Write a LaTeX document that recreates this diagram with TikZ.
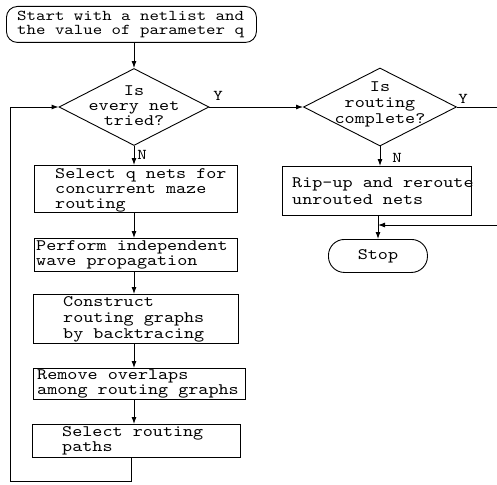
\documentclass[tikz,border=0pt]{standalone}
\usepackage{fontspec}
\usetikzlibrary{shapes.geometric,arrows.meta,calc}
\newfontfamily\tw{lmmono10-regular}[Extension=.otf, FakeStretch=1.2]
\begin{document}
\begin{tikzpicture}[x=1pt,y=-1pt,
  box/.style={draw, line width=0.9pt, anchor=north west, inner sep=0pt},
  txt/.style={font={\tw\fontsize{16}{15}\selectfont}, align=left, inner sep=0pt, anchor=west},
  ctxt/.style={font={\tw\fontsize{16}{15}\selectfont}, align=center, inner sep=0pt},
  lbl/.style={font={\tw\fontsize{15}{15}\selectfont}, inner sep=0pt},
  dia/.style={draw, diamond, line width=0.9pt, inner sep=0pt},
  arr/.style={-{Latex[length=7pt,width=5pt]}, line width=0.9pt},
  ln/.style={line width=0.9pt}]
\useasboundingbox (0,0) rectangle (497,484);

% left column
\node[box, rounded corners=11pt, minimum width=250pt, minimum height=36pt] (start) at (6,6) {};
\node[txt, font={\tw\fontsize{15}{14}\selectfont}] (starttxt) at ([xshift=11pt]start.west) {Start with a netlist and\\the value of parameter q};

\node[dia, minimum width=150pt, minimum height=77pt] (d1) at (134,107) {};
\node[ctxt] (d1t) at (134,106) {Is\\every net\\tried?};

\node[box, minimum width=203pt, minimum height=47pt] (b1) at (34,165) {};
\node[txt] (b1t) at ([xshift=21pt,yshift=-1pt]b1.west) {Select q nets for\\concurrent maze\\routing};

\node[box, minimum width=203pt, minimum height=33pt] (b2) at (34,238) {};
\node[txt] (b2t) at ([xshift=2pt]b2.west) {Perform independent\\wave propagation};

\node[box, minimum width=205pt, minimum height=49pt] (b3) at (33,294) {};
\node[txt, font={\tw\fontsize{16}{16}\selectfont}] (b3t) at ([xshift=30pt]b3.west) {Construct\\routing graphs\\by backtracing};

\node[box, minimum width=212pt, minimum height=31pt] (b4) at (33,368) {};
\node[txt] (b4t) at ([xshift=4pt]b4.west) {Remove overlaps\\among routing graphs};

\node[box, minimum width=208pt, minimum height=33pt] (b5) at (32,424) {};
\node[txt] (b5t) at ([xshift=30pt]b5.west) {Select routing\\paths};

% right column
\node[dia, minimum width=153pt, minimum height=78pt] (d2) at (380,107) {};
\node[ctxt, font={\tw\fontsize{16}{16}\selectfont}] (d2t) at (380,104) {Is\\routing\\complete?};

\node[box, minimum width=189pt, minimum height=49pt] (rip) at (282,166) {};
\node[txt, font={\tw\fontsize{16}{17}\selectfont}] (ript) at ([xshift=10pt]rip.west) {Rip-up and reroute\\unrouted nets};

\node[box, rounded corners=16pt, minimum width=99pt, minimum height=33pt] (stop) at (328,239) {};
\node[ctxt] (stopt) at (stop.center) {Stop};

% labels
\node[lbl] (y1) at (218,96) {Y};
\node[lbl] (n1) at (142,155) {N};
\node[lbl] (y2) at (463,99) {Y};
\node[lbl] (n2) at (397,158) {N};

% connectors
\draw[arr] (d1.north |- start.south) -- (d1.north);
\draw[arr] (d1.south) -- (d1.south |- b1.north);
\draw[arr] (d1.south |- b1.south) -- (d1.south |- b2.north);
\draw[arr] (d1.south |- b2.south) -- (d1.south |- b3.north);
\draw[arr] (d1.south |- b3.south) -- (d1.south |- b4.north);
\draw[arr] (d1.south |- b4.south) -- (d1.south |- b5.north);
\coordinate (lb) at (10,481);
\draw[arr] ([xshift=-3pt]d1.south |- b5.south) |- (lb) |- (d1.west);
\draw[arr] (d1.east) -- (d2.west);
\coordinate (ye) at (497,107);
\draw[ln] (d2.east) -- (ye);
\draw[arr] (d2.south) -- (d2.south |- rip.north);
\draw[arr] ([xshift=-2pt]d2.south |- rip.south) -- ([xshift=-2pt]d2.south |- stop.north);
\coordinate (re) at (497,225);
\draw[arr] (re) -- ([xshift=-2pt]re -| d2.south);
\end{tikzpicture}
\end{document}
